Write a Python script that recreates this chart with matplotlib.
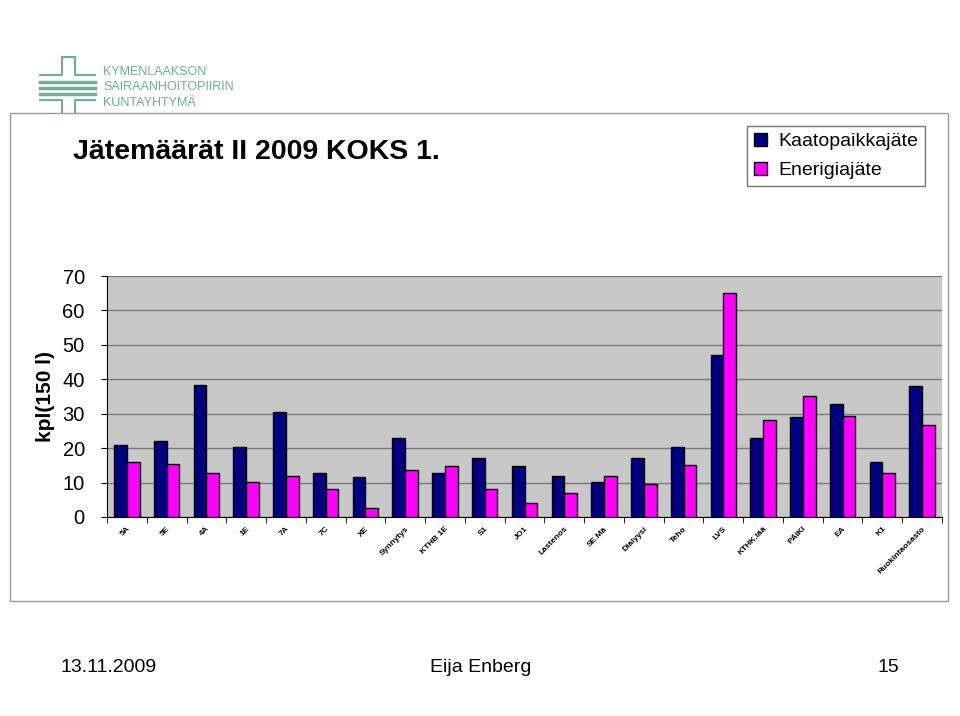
import matplotlib.pyplot as plt
import numpy as np
from matplotlib.patches import Rectangle

plt.rcParams['font.family'] = ['Liberation Sans', 'DejaVu Sans']

# yksiköt / osastot
categories = ["5A", "5E", "4A", "1E", "7A", "7C", "XE", "Synnytys", "KTHB 1E",
              "S1", "JO1", "Lastenos", "SE.Mä", "Dialyysi", "Teho", "LVS",
              "KTHK.lää", "PÄIKI", "EA", "K1", "Ruokintaosasto"]
kaatopaikka = [21, 22, 38.4, 20.3, 30.5, 12.8, 11.6, 23, 12.8, 17.1, 14.8,
               12, 10.1, 17.1, 20.3, 47, 23, 29, 32.9, 15.9, 38]
energia = [15.9, 15.5, 12.8, 10.1, 12, 8.1, 2.5, 13.6, 14.8, 8.1, 4.2,
           6.9, 12, 9.7, 15.2, 65.1, 28.2, 35.2, 29.4, 12.8, 26.6]
yticks = [0, 10, 20, 30, 40, 50, 60, 70]

fig = plt.figure(figsize=(9.6, 7.16), dpi=100)

# chart frame
fig.patches.append(Rectangle((10/960, 1-601/716), 938/960, 488/716,
                             transform=fig.transFigure, fill=False,
                             edgecolor='#9a9a9a', lw=1))

ax = fig.add_axes([107/960, 1-517/716, 835/960, 241/716])
x = np.arange(len(categories))
w = 0.32
ax.bar(x - w/2, kaatopaikka, w, color='#000080', edgecolor='black', lw=1,
       label='Kaatopaikkajäte', zorder=3)
ax.bar(x + w/2, energia, w, color='#FF00FF', edgecolor='black', lw=1,
       label='Enerigiajäte', zorder=3)

ax.set_facecolor('#c8c8c8')
ax.set_xlim(-0.5, len(categories) - 0.5)
ax.set_ylim(0, 70)
ax.set_yticks(yticks)
ax.set_yticklabels([str(t) for t in yticks], fontsize=14.5)
ax.yaxis.grid(True, color='#7a7a7a', lw=1, zorder=0)
ax.tick_params(axis='y', length=4, pad=12)
ax.set_xticks(x)
ax.set_xticklabels(categories, rotation=45, ha='right', rotation_mode='anchor',
                   fontsize=6, fontweight='bold')
ax.set_xticks(np.arange(-0.5, len(categories)), minor=True)
ax.tick_params(axis='x', which='major', length=0, pad=6)
ax.tick_params(axis='x', which='minor', length=4)
for s in ['top', 'right']:
    ax.spines[s].set_visible(False)
ax.set_ylabel('kpl(150 l)', fontsize=15, fontweight='bold', labelpad=5)

fig.legend(loc='upper left', bbox_to_anchor=(737/960, 1-116/716),
           fontsize=14, frameon=True, fancybox=False, edgecolor='#555555',
           handlelength=0.7, handleheight=0.7, handletextpad=0.6,
           borderpad=0.35, labelspacing=0.6)

fig.text(73/960, 1-152/716, 'Jätemäärät II 2009 KOKS 1.', fontsize=20.5,
         fontweight='bold', va='center')

# logo
green = '#6fae97'
for i, t in enumerate(['KYMENLAAKSON', 'SAIRAANHOITOPIIRIN', 'KUNTAYHTYMÄ']):
    fig.text(103/960, 1-(72 + i*15.5)/716, t, fontsize=9, color=green,
             va='center')
fig.add_artist(plt.Line2D([62/960, 62/960, 40/960], [1-57/716, 1-75/716, 1-75/716],
                          transform=fig.transFigure, color=green, lw=1.5))
fig.add_artist(plt.Line2D([75/960, 75/960, 95/960], [1-57/716, 1-75/716, 1-75/716],
                          transform=fig.transFigure, color=green, lw=1.5))
fig.add_artist(plt.Line2D([62/960, 75/960], [1-57/716, 1-57/716],
                          transform=fig.transFigure, color=green, lw=1.5))
fig.add_artist(plt.Line2D([40/960, 62/960, 62/960], [1-100/716, 1-100/716, 1-112/716],
                          transform=fig.transFigure, color=green, lw=1.5))
fig.add_artist(plt.Line2D([95/960, 75/960, 75/960], [1-100/716, 1-100/716, 1-112/716],
                          transform=fig.transFigure, color=green, lw=1.5))
for yy in [82, 88, 94]:
    fig.add_artist(plt.Line2D([40/960, 95/960], [1-yy/716, 1-yy/716],
                              transform=fig.transFigure, color=green, lw=2.5))

# footer
fig.text(60/960, 1-668/716, '13.11.2009', fontsize=14, va='center')
fig.text(481/960, 1-668/716, 'Eija Enberg', fontsize=14, va='center', ha='center')
fig.text(888/960, 1-668/716, '15', fontsize=14, va='center', ha='center')

fig.savefig('out.png', dpi=100)
